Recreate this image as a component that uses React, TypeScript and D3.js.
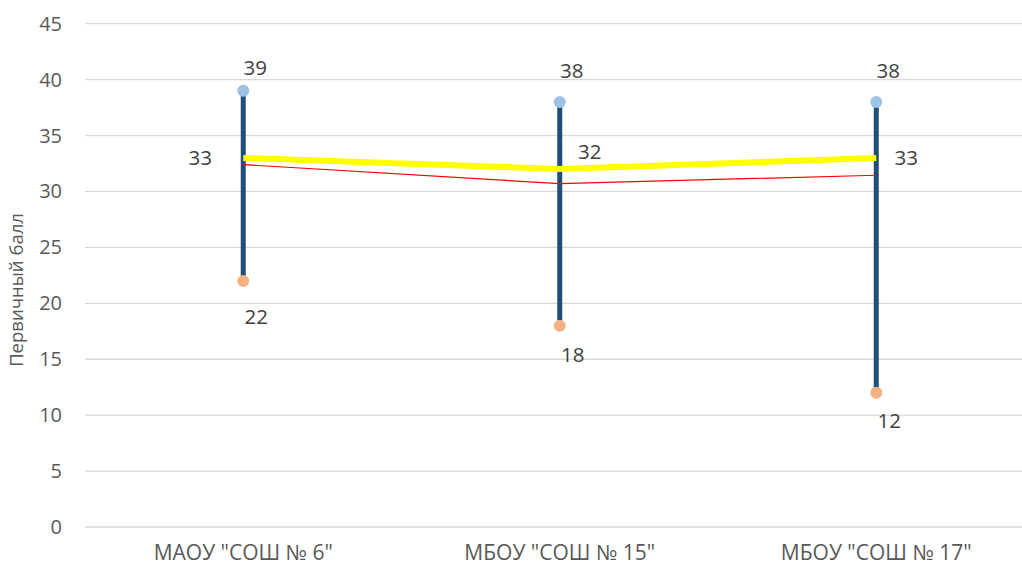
import React from "react";
import * as d3 from "d3";

const categories = ['МАОУ "СОШ № 6"', 'МБОУ "СОШ № 15"', 'МБОУ "СОШ № 17"'];
const maxValues = [39, 38, 38];
const minValues = [22, 18, 12];
const medianValues = [33, 32, 33];
const meanValues = [32.4, 30.7, 31.45];
const yTicks = [0, 5, 10, 15, 20, 25, 30, 35, 40, 45];
const medianLabelSide = ["left", "right", "right"];

export default function App() {
  const W = 1022, H = 567;
  const x = d3.scaleBand<string>().domain(categories).range([85, 1034.5]);
  const y = d3.scaleLinear().domain([0, 45]).range([527, 23.7]);
  const cx = (i: number) => (x(categories[i]) as number) + x.bandwidth() / 2;
  const line = d3.line<number>().x((_, i) => cx(i)).y((d) => y(d));
  const font = "'Open Sans', 'Noto Sans', sans-serif";
  const maxOff = [-23, -31, -31];
  const minOff = [36, 29, 28];
  return (
    <svg width={W} height={H} style={{ position: "absolute", left: 0, top: 0, background: "#fff" }} fontFamily={font}>
      {yTicks.map((t) => (
        <g key={t}>
          <line x1={85} x2={W} y1={y(t)} y2={y(t)} stroke="#d9d9d9" strokeWidth={1.3} />
          <text x={62} y={y(t)} dy="0.35em" textAnchor="end" fontSize={20} fill="#595959">{t}</text>
        </g>
      ))}
      <text transform={`translate(23,290) rotate(-90)`} textAnchor="middle" fontSize={18.5} fill="#595959">Первичный балл</text>
      {categories.map((c, i) => (
        <text key={c} x={cx(i)} y={553} dy="0.35em" textAnchor="middle" fontSize={21} fill="#595959">{c}</text>
      ))}
      {categories.map((c, i) => (
        <line key={c} x1={cx(i)} x2={cx(i)} y1={y(maxValues[i])} y2={y(minValues[i])} stroke="#1f4e79" strokeWidth={5} />
      ))}
      <path d={line(medianValues) || ""} fill="none" stroke="#ffff00" strokeWidth={6} />
      <path d={line(meanValues) || ""} fill="none" stroke="#ff0000" strokeWidth={1.2} />
      {categories.map((c, i) => (
        <g key={c}>
          <circle cx={cx(i)} cy={y(maxValues[i])} r={6} fill="#9dc3e6" />
          <circle cx={cx(i)} cy={y(minValues[i])} r={6} fill="#f4b183" />
          <text x={cx(i) + 12} y={y(maxValues[i]) + maxOff[i]} dy="0.35em" textAnchor="middle" fontSize={20.5} fill="#404040">{maxValues[i]}</text>
          <text x={cx(i) + 13} y={y(minValues[i]) + minOff[i]} dy="0.35em" textAnchor="middle" fontSize={20.5} fill="#404040">{minValues[i]}</text>
          <text
            x={medianLabelSide[i] === "left" ? cx(i) - 43 : cx(i) + 30}
            y={y(medianValues[i]) - (i === 1 ? 17 : 0)}
            dy="0.35em"
            textAnchor="middle"
            fontSize={20.5}
            fill="#404040"
          >{medianValues[i]}</text>
        </g>
      ))}
    </svg>
  );
}
